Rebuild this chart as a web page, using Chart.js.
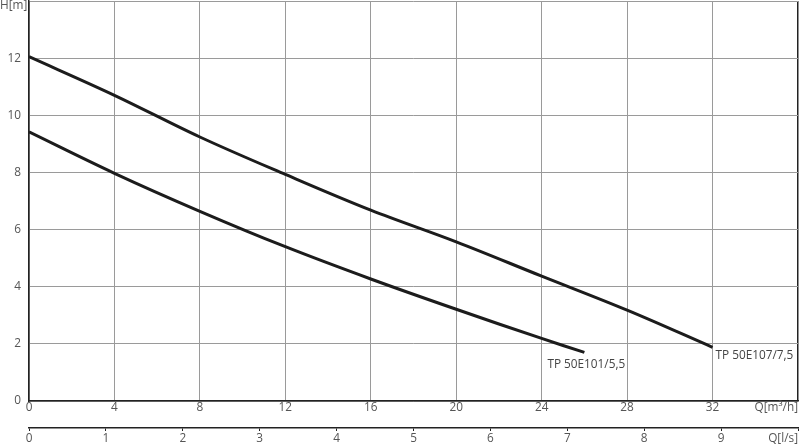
<!DOCTYPE html>
<html>
<head>
<meta charset="utf-8">
<script src="https://cdn.jsdelivr.net/npm/chart.js@4/dist/chart.umd.min.js"></script>
<style>
html,body{margin:0;padding:0;background:#fff;}
#wrap{width:800px;height:448px;position:relative;}
</style>
</head>
<body>
<div id="wrap"><canvas id="c" width="800" height="448"></canvas></div>
<script>
// Data
const seriesNames = ['TP 50E107/7,5', 'TP 50E101/5,5'];
const qUpper = [0, 4, 8, 12, 16, 20, 24, 28, 32];          // Q [m³/h]
const hUpper = [12.05, 10.70, 9.24, 7.93, 6.68, 5.57, 4.37, 3.18, 1.88]; // H [m]
const qLower = [0, 4, 8, 12, 16, 20, 24, 26];
const hLower = [9.42, 7.97, 6.64, 5.40, 4.27, 3.21, 2.19, 1.70];
const qTicksMax = 36, qTickStep = 4;      // m³/h axis
const lsTicksMax = 10, lsTickStep = 1;    // l/s axis
const hTicksMax = 14, hTickStep = 2;      // H axis
const axisTitles = {y: 'H[m]', x: 'Q[m³/h]', x2: 'Q[l/s]'};

const FONT = {family: '"Open Sans", sans-serif', size: 11.8};
const TXT = '#555';

function pts(xs, ys){ return xs.map((x,i)=>({x:x, y:ys[i]})); }

const labelOffsets = [{dx: 3, dy: 8}, {dx: -37, dy: 12}];

const labelsPlugin = {
  id: 'labels',
  afterDraw(chart){
    const ctx = chart.ctx;
    ctx.save();
    ctx.font = FONT.size + 'px ' + FONT.family;
    ctx.fillStyle = '#444';
    ctx.textBaseline = 'middle';
    ctx.textAlign = 'left';
    chart.data.datasets.forEach((ds, i) => {
      const meta = chart.getDatasetMeta(i);
      const p = meta.data[meta.data.length - 1];
      ctx.fillText(ds.label, p.x + labelOffsets[i].dx, p.y + labelOffsets[i].dy);
    });
    ctx.fillStyle = TXT;
    ctx.fillText(axisTitles.y, 0, 6);
    ctx.textAlign = 'right';
    const xs = chart.scales.x, x2 = chart.scales.x2;
    ctx.fillText(axisTitles.x, chart.chartArea.right, xs.top + 7);
    ctx.fillText(axisTitles.x2, chart.chartArea.right, x2.top + 11);
    ctx.restore();
  }
};

function noPad(s){ s.paddingTop = 0; s.paddingBottom = 0; s.paddingLeft = 0; s.paddingRight = 0; }

new Chart(document.getElementById('c'), {
  type: 'line',
  data: {
    datasets: [
      {label: seriesNames[0], data: pts(qUpper, hUpper), xAxisID: 'x', yAxisID: 'y'},
      {label: seriesNames[1], data: pts(qLower, hLower), xAxisID: 'x', yAxisID: 'y'}
    ]
  },
  options: {
    responsive: false,
    animation: false,
    events: [],
    layout: {padding: {top: 1, right: 2, left: 0, bottom: 0}},
    elements: {
      line: {borderColor: '#1c1c1c', borderWidth: 3, tension: 0.35, fill: false, borderCapStyle: 'butt'},
      point: {radius: 0}
    },
    plugins: {legend: {display: false}, tooltip: {enabled: false}},
    scales: {
      x: {
        type: 'linear', position: 'bottom', weight: 1,
        min: 0, max: qTicksMax,
        ticks: {stepSize: qTickStep, color: TXT, font: FONT, padding: 0, maxRotation: 0,
          callback: v => v === qTicksMax ? '' : String(v)},
        grid: {drawTicks: false,
          color: c => (c.tick && c.tick.value === qTicksMax) ? '#222' : '#9a9a9a',
          lineWidth: c => (c.tick && c.tick.value === qTicksMax) ? 1.5 : 1},
        border: {color: '#222', width: 1.5},
        afterFit: s => { s.height = 27; noPad(s); }
      },
      x2: {
        type: 'linear', position: 'bottom', weight: 2,
        min: 0, max: lsTicksMax,
        ticks: {stepSize: lsTickStep, color: TXT, font: FONT, padding: 1, maxRotation: 0,
          callback: v => v === lsTicksMax ? '' : String(v)},
        grid: {drawOnChartArea: false, drawTicks: true, tickLength: 3, color: '#222'},
        border: {color: '#222', width: 1.5},
        afterFit: s => { s.height = 20; noPad(s); }
      },
      y: {
        type: 'linear', position: 'left',
        min: 0, max: hTicksMax,
        ticks: {stepSize: hTickStep, color: TXT, font: FONT, padding: 8,
          callback: v => v === hTicksMax ? '' : String(v)},
        grid: {drawTicks: false, color: '#9a9a9a', lineWidth: 1},
        border: {color: '#222', width: 1.5},
        afterFit: s => { s.width = 29; noPad(s); }
      }
    }
  },
  plugins: [labelsPlugin]
});
</script>
</body>
</html>
